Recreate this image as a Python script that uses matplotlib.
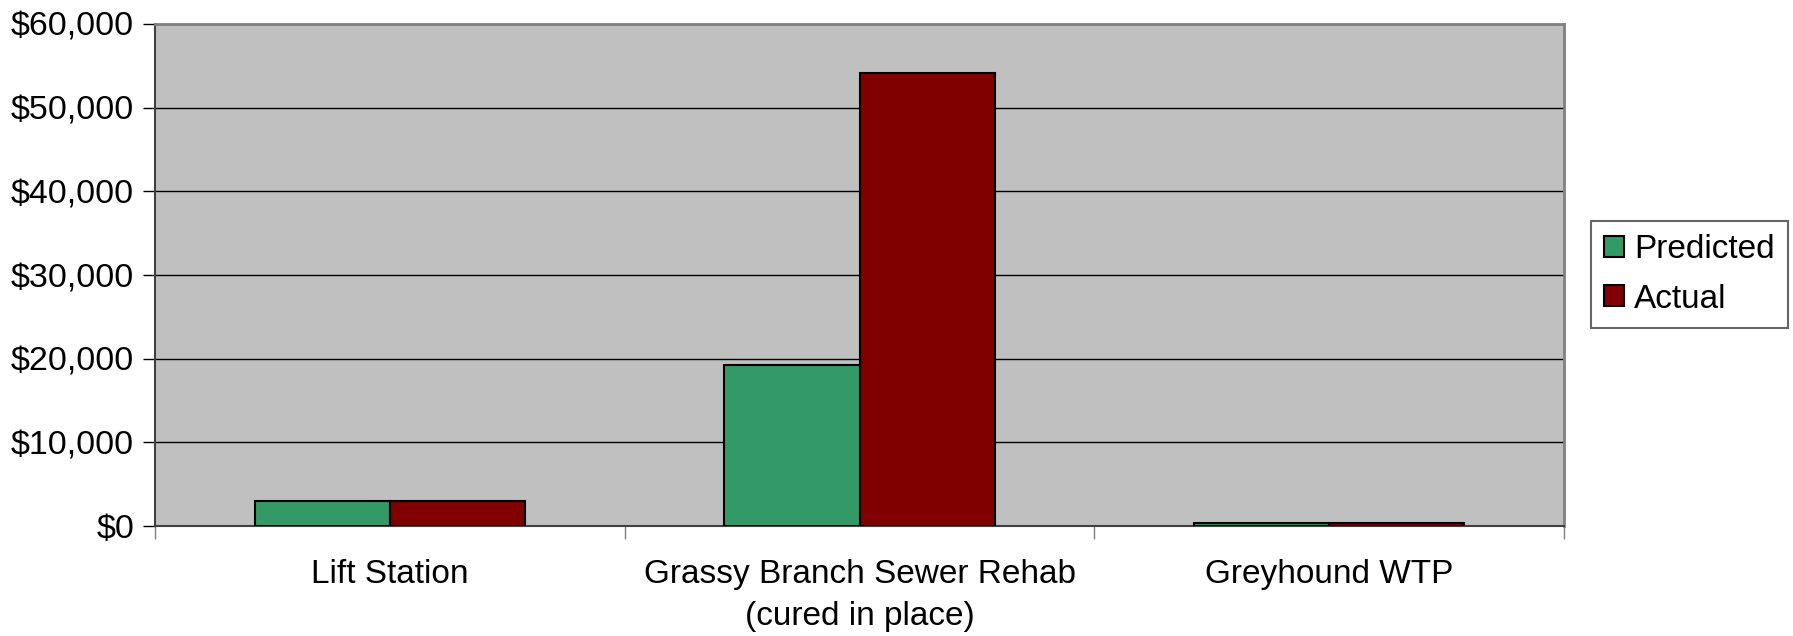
import numpy as np
from matplotlib import pyplot as plt
from matplotlib.ticker import FuncFormatter, MultipleLocator

plt.rcParams['font.family'] = ['Liberation Sans', 'DejaVu Sans']

categories = ["Lift Station", "Grassy Branch Sewer Rehab\n(cured in place)", "Greyhound WTP"]
predicted = [3000, 19300, 400]
actual = [3000, 54200, 400]

fig = plt.figure(figsize=(17.93, 6.36), dpi=100)
ax = fig.add_axes([155 / 1793, 110 / 636, (1564 - 155) / 1793, (526 - 24) / 636])
ax.set_facecolor("#C0C0C0")

x = np.arange(len(categories))
w = 0.2875
ax.bar(x - w / 2, predicted, w, color="#339966", edgecolor="black", linewidth=1.5,
       label="Predicted", zorder=3)
ax.bar(x + w / 2, actual, w, color="#800000", edgecolor="black", linewidth=1.5,
       label="Actual", zorder=3)

ax.set_xlim(-0.5, 2.5)
ax.set_ylim(0, 60000)
ax.yaxis.set_major_locator(MultipleLocator(10000))
ax.yaxis.set_major_formatter(FuncFormatter(lambda v, p: "${:,.0f}".format(v)))
ax.yaxis.grid(True, color="black", linewidth=1, zorder=1)
ax.set_axisbelow(True)

ax.set_xticks(x)
ax.set_xticklabels(categories, linespacing=1.45)
ax.set_xticks([-0.5, 0.5, 1.5, 2.5], minor=True)
ax.tick_params(axis="x", which="major", length=0, pad=24, labelsize=24)
ax.tick_params(axis="x", which="minor", length=9, width=1, color="#808080")
ax.tick_params(axis="y", length=9, width=1, labelsize=24.5, pad=6)

for side in ["top", "right"]:
    ax.spines[side].set_color("#808080")
    ax.spines[side].set_linewidth(2)
ax.spines["left"].set_color("#404040")
ax.spines["left"].set_linewidth(1.5)
ax.spines["bottom"].set_color("#404040")
ax.spines["bottom"].set_linewidth(1.5)

leg = ax.legend(loc="center left", bbox_to_anchor=(1591 / 1793, (636 - 274.5) / 636),
                bbox_transform=fig.transFigure, fontsize=24, frameon=True,
                fancybox=False, edgecolor="#404040", handlelength=0.6,
                handleheight=0.6, handletextpad=0.3, borderpad=0.4,
                labelspacing=0.55, borderaxespad=0)
leg.get_frame().set_linewidth(1.5)

fig.savefig("out.png", dpi=100)
